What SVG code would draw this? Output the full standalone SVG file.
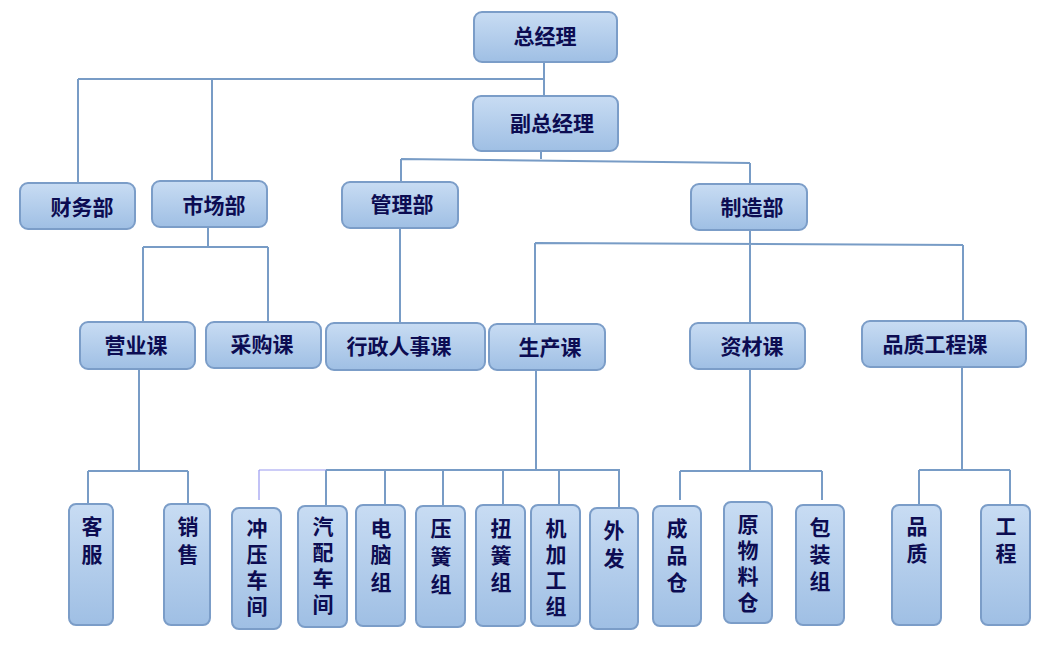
<svg xmlns="http://www.w3.org/2000/svg" width="1038" height="657" viewBox="0 0 1038 657">
<defs>
<linearGradient id="g" x1="0" y1="0" x2="0" y2="1"><stop offset="0" stop-color="#c8dcf3"/><stop offset="1" stop-color="#9fbfe4"/></linearGradient>
<style>
.n rect{fill:url(#g);stroke:#7b9dc8;stroke-width:2}
.n text{font-family:"Noto Sans CJK SC",sans-serif;font-weight:bold;font-size:21px;fill:#0c0c52;text-anchor:middle}
#c path{stroke:#789cc6;stroke-width:2;fill:none}
</style>
</defs>
<rect width="1038" height="657" fill="#fff"/>
<g id="c">
<path d="M544 62V96M78 79H544M78 79V183M212 79V181"/>
<path d="M541 151V159M401 159L750 163M401 159V182M750 163V184"/>
<path d="M208 227V247M143 247H268M143 247V322M268 247V322"/>
<path d="M400 228V323"/>
<path d="M750 230V323M535 243L963 245M535 243V324M963 245V321"/>
<path d="M139 369V471M88 471H188M88 471V504M188 471V504"/>
<path d="M536 370V470M326 470H620M326 470V506M385 470V505M443 470V506M503 470V505M559 470V505M619 470V508"/>
<path d="M259 470H326M259 470V500" style="stroke:#9a9af0;stroke-width:1.2"/>
<path d="M750 369V471M680 471H822M680 471V500M822 471V500"/>
<path d="M962 367V470M919 470H1010M919 470V505M1010 470V505"/>
</g>
<g id="n1" class="n"><rect x="474" y="12" width="143" height="50" rx="8"/><text x="545" y="44">总经理</text></g>
<g id="n2" class="n"><rect x="473" y="96" width="145" height="55" rx="8"/><text x="552" y="131">副总经理</text></g>
<g id="n3" class="n"><rect x="20" y="183" width="115" height="46" rx="8"/><text x="82" y="215">财务部</text></g>
<g id="n4" class="n"><rect x="152" y="181" width="115" height="46" rx="8"/><text x="214" y="213">市场部</text></g>
<g id="n5" class="n"><rect x="342" y="182" width="116" height="46" rx="8"/><text x="402" y="212">管理部</text></g>
<g id="n6" class="n"><rect x="691" y="184" width="116" height="46" rx="8"/><text x="752" y="215">制造部</text></g>
<g id="n7" class="n"><rect x="80" y="322" width="115" height="47" rx="8"/><text x="136" y="353">营业课</text></g>
<g id="n8" class="n"><rect x="206" y="322" width="115" height="46" rx="8"/><text x="262" y="352">采购课</text></g>
<g id="n9" class="n"><rect x="326" y="323" width="159" height="47" rx="8"/><text x="399" y="354">行政人事课</text></g>
<g id="n10" class="n"><rect x="489" y="324" width="116" height="46" rx="8"/><text x="550" y="355">生产课</text></g>
<g id="n11" class="n"><rect x="690" y="323" width="115" height="46" rx="8"/><text x="752" y="354">资材课</text></g>
<g id="n12" class="n"><rect x="862" y="321" width="164" height="46" rx="8"/><text x="935" y="352">品质工程课</text></g>
<g id="n13" class="n"><rect x="69" y="504" width="44" height="121" rx="7"/><text x="92" y="534">客</text><text x="92" y="562">服</text></g>
<g id="n14" class="n"><rect x="164" y="504" width="46" height="121" rx="7"/><text x="188" y="534">销</text><text x="188" y="562">售</text></g>
<g id="n15" class="n"><rect x="232" y="508" width="49" height="121" rx="7"/><text x="257" y="536">冲</text><text x="257" y="562">压</text><text x="257" y="588">车</text><text x="257" y="614">间</text></g>
<g id="n16" class="n"><rect x="298" y="506" width="49" height="121" rx="7"/><text x="323" y="534">汽</text><text x="323" y="560">配</text><text x="323" y="586">车</text><text x="323" y="612">间</text></g>
<g id="n17" class="n"><rect x="356" y="505" width="49" height="121" rx="7"/><text x="381" y="536">电</text><text x="381" y="562">脑</text><text x="381" y="590">组</text></g>
<g id="n18" class="n"><rect x="416" y="506" width="49" height="121" rx="7"/><text x="441" y="536">压</text><text x="441" y="564">簧</text><text x="441" y="592">组</text></g>
<g id="n19" class="n"><rect x="476" y="505" width="49" height="121" rx="7"/><text x="501" y="536">扭</text><text x="501" y="563">簧</text><text x="501" y="590">组</text></g>
<g id="n20" class="n"><rect x="531" y="505" width="49" height="121" rx="7"/><text x="556" y="536">机</text><text x="556" y="562">加</text><text x="556" y="588">工</text><text x="556" y="614">组</text></g>
<g id="n21" class="n"><rect x="590" y="508" width="48" height="121" rx="7"/><text x="614" y="538">外</text><text x="614" y="566">发</text></g>
<g id="n22" class="n"><rect x="653" y="506" width="48" height="120" rx="7"/><text x="677" y="536">成</text><text x="677" y="563">品</text><text x="677" y="590">仓</text></g>
<g id="n23" class="n"><rect x="724" y="502" width="48" height="121" rx="7"/><text x="748" y="532">原</text><text x="748" y="558">物</text><text x="748" y="584">料</text><text x="748" y="610">仓</text></g>
<g id="n24" class="n"><rect x="796" y="505" width="48" height="120" rx="7"/><text x="820" y="535">包</text><text x="820" y="562">装</text><text x="820" y="589">组</text></g>
<g id="n25" class="n"><rect x="892" y="505" width="49" height="120" rx="7"/><text x="917" y="534">品</text><text x="917" y="561">质</text></g>
<g id="n26" class="n"><rect x="981" y="505" width="49" height="120" rx="7"/><text x="1006" y="534">工</text><text x="1006" y="561">程</text></g>
</svg>
